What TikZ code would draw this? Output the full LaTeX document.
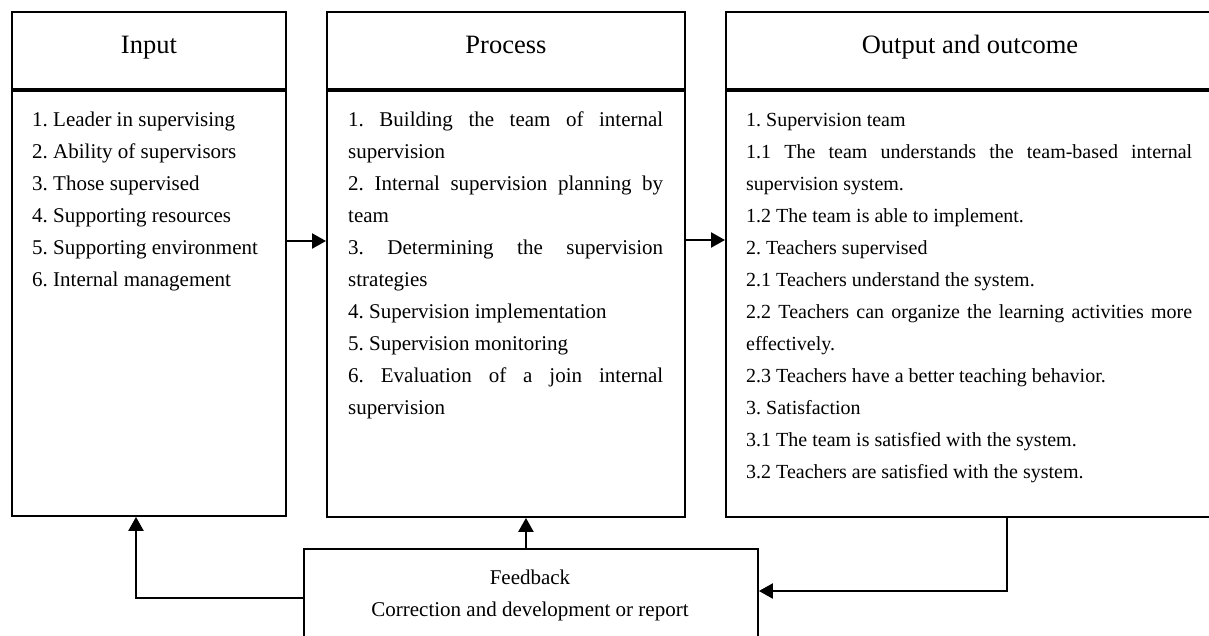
\documentclass[tikz,border=0pt]{standalone}
\usepackage{fontspec}
\setmainfont{Liberation Serif}
\usetikzlibrary{arrows.meta}

% plain word spaces inside the text blocks
\newcommand{\natspace}{\spaceskip=0.25em\xspaceskip=0.25em\frenchspacing}
% a line spread out to the full column width
\newcommand{\jline}[2]{{\spaceskip=0.25em plus 1fil\xspaceskip=0.25em plus 1fil\makebox[#1][s]{#2}}}

\tikzset{
  frame/.style={draw, line width=1.9pt, inner sep=0pt, anchor=north west, line join=miter},
  headtext/.style={font=\fontsize{26.5}{30}\selectfont, text height=12.5pt, text depth=5.5pt},
  bodytext/.style={font=\fontsize{21}{32}\selectfont, align=left, inner sep=0pt, anchor=base west},
  outtext/.style={font=\fontsize{20}{32}\selectfont, align=left, inner sep=0pt, anchor=base west},
  sepline/.style={line width=3.4pt},
  arr/.style={-{Triangle[length=14pt,width=15pt]}, line width=2.3pt, line join=miter}
}

\begin{document}
\begin{tikzpicture}[x=1pt,y=-1pt]
\useasboundingbox (0,0) rectangle (1209,635);
\fill[white] (0,0) rectangle (1209,635);

% --- Input column
\node[frame, headtext, minimum width=274pt, minimum height=77pt] (inhead) at (11,11) {Input};
\node[frame, minimum width=274pt, minimum height=427pt] (inbody) at (11,88) {};
\draw[sepline] (inhead.south west) -- (inhead.south east);
\node[bodytext, text width=250pt] (intext) at (32,126) {\natspace
1. Leader in supervising\\
2. Ability of supervisors\\
3. Those supervised\\
4. Supporting resources\\
5. Supporting environment\\
6. Internal management};

% --- Process column
\node[frame, headtext, minimum width=358pt, minimum height=77pt] (prhead) at (326,11) {Process};
\node[frame, minimum width=358pt, minimum height=428pt] (prbody) at (326,88) {};
\draw[sepline] (prhead.south west) -- (prhead.south east);
\node[bodytext, text width=315pt] (prtext) at (348,126) {\natspace
\jline{315pt}{1. Building the team of internal}\\
supervision\\
\jline{315pt}{2. Internal supervision planning by}\\
team\\
\jline{315pt}{3. Determining the supervision}\\
strategies\\
4. Supervision implementation\\
5. Supervision monitoring\\
\jline{315pt}{6. Evaluation of a join internal}\\
supervision};

% --- Output and outcome column
\node[frame, headtext, minimum width=488pt, minimum height=77pt] (outhead) at (725,11) {Output and outcome};
\node[frame, minimum width=488pt, minimum height=428pt] (outbody) at (725,88) {};
\draw[sepline] (outhead.south west) -- (outhead.south east);
\node[outtext, text width=446pt] (outlist) at (746,126) {\natspace
1. Supervision team\\
\jline{446pt}{1.1 The team understands the team-based internal}\\
supervision system.\\
1.2 The team is able to implement.\\
2. Teachers supervised\\
2.1 Teachers understand the system.\\
\jline{446pt}{2.2 Teachers can organize the learning activities more}\\
effectively.\\
2.3 Teachers have a better teaching behavior.\\
3. Satisfaction\\
3.1 The team is satisfied with the system.\\
3.2 Teachers are satisfied with the system.};

% --- Feedback box
\node[frame, minimum width=454pt, minimum height=120pt] (fb) at (303,548) {};
\node[font=\fontsize{21}{32}\selectfont, align=center, text width=454pt, inner sep=0pt, anchor=base] (fbtext) at (530,584) {\natspace
Feedback\\
Correction and development or report};

% --- Connectors
\draw[arr] ([yshift=-153pt]inbody.north east) -- ([yshift=-153pt]prbody.north west);
\draw[arr] ([yshift=-152pt]prbody.north east) -- ([yshift=-152pt]outbody.north west);
\draw[arr] ([yshift=-50pt]fb.north west) -| ([xshift=125pt]inbody.south west);
\draw[arr] ([xshift=-5pt]fb.north) -- ([xshift=-5pt]fb.north |- prbody.south);
\draw[arr] ([xshift=282pt]outbody.south west) |- ([yshift=-43pt]fb.north east);
\end{tikzpicture}
\end{document}
